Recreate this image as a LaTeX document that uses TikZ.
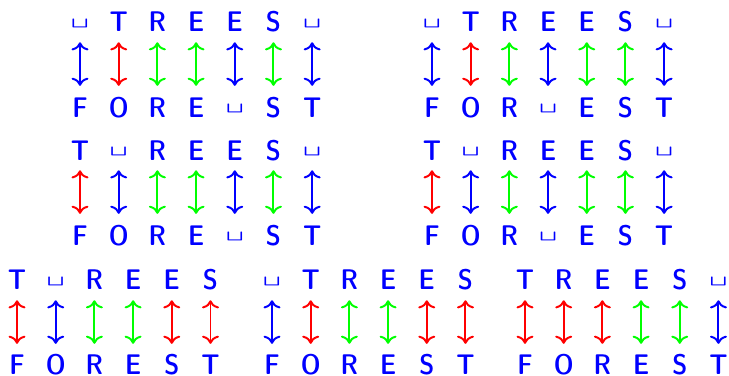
\documentclass[tikz,border=0pt]{standalone}
\usetikzlibrary{arrows.meta}

\tikzset{
  letter/.style={text=blue, font=\sffamily\fontseries{sbc}\fontsize{21}{24}\selectfont,
    inner sep=0pt, text height=14.75pt, text depth=0pt, anchor=base},
  pair/.style={line width=1.45pt,
    {Computer Modern Rightarrow[width=12.5pt,length=6pt]}-{Computer Modern Rightarrow[width=12.5pt,length=6pt]},
    shorten <=7.4pt, shorten >=8.1pt},
}

% one alignment: name, left x, top baseline y, list top/bottom/colour
\newcommand{\alignment}[4]{%
  \foreach \t/\b/\c [count=\i] in {#4} {
    \node[letter] (#1-t\i) at ({#2+(\i-1)*1.005}, #3) {\t};
    \node[letter] (#1-b\i) at ({#2+(\i-1)*1.005}, #3-2.208) {\b};
    \draw[pair, \c] (#1-t\i.south) -- (#1-b\i.north);
  }}

\newcommand{\vs}{\raisebox{4.5pt}{\scalebox{1.3}[0.8]{\textvisiblespace}}}

\begin{document}
\begin{tikzpicture}
  \useasboundingbox (0,0) rectangle (18.935,-9.766);

  % --- first row ---
  \alignment{ul}{2.078}{-0.831}{\vs/F/blue, T/O/red, R/R/green, E/E/green, E/\vs/blue, S/S/green, \vs/T/blue}
  \alignment{ur}{11.22}{-0.831}{\vs/F/blue, T/O/red, R/R/green, E/\vs/blue, E/E/green, S/S/green, \vs/T/blue}

  % --- second row ---
  \alignment{ml}{2.078}{-4.156}{T/F/red, \vs/O/blue, R/R/green, E/E/green, E/\vs/blue, S/S/green, \vs/T/blue}
  \alignment{mr}{11.22}{-4.156}{T/F/red, \vs/O/blue, R/R/green, E/\vs/blue, E/E/green, S/S/green, \vs/T/blue}

  % --- third row ---
  \alignment{la}{0.442}{-7.532}{T/F/red, \vs/O/blue, R/R/green, E/E/green, E/S/red, S/T/red}
  \alignment{lb}{7.065}{-7.532}{\vs/F/blue, T/O/red, R/R/green, E/E/green, E/S/red, S/T/red}
  \alignment{lc}{13.636}{-7.532}{T/F/red, R/O/red, E/R/red, E/E/green, S/S/green, \vs/T/blue}
\end{tikzpicture}
\end{document}
